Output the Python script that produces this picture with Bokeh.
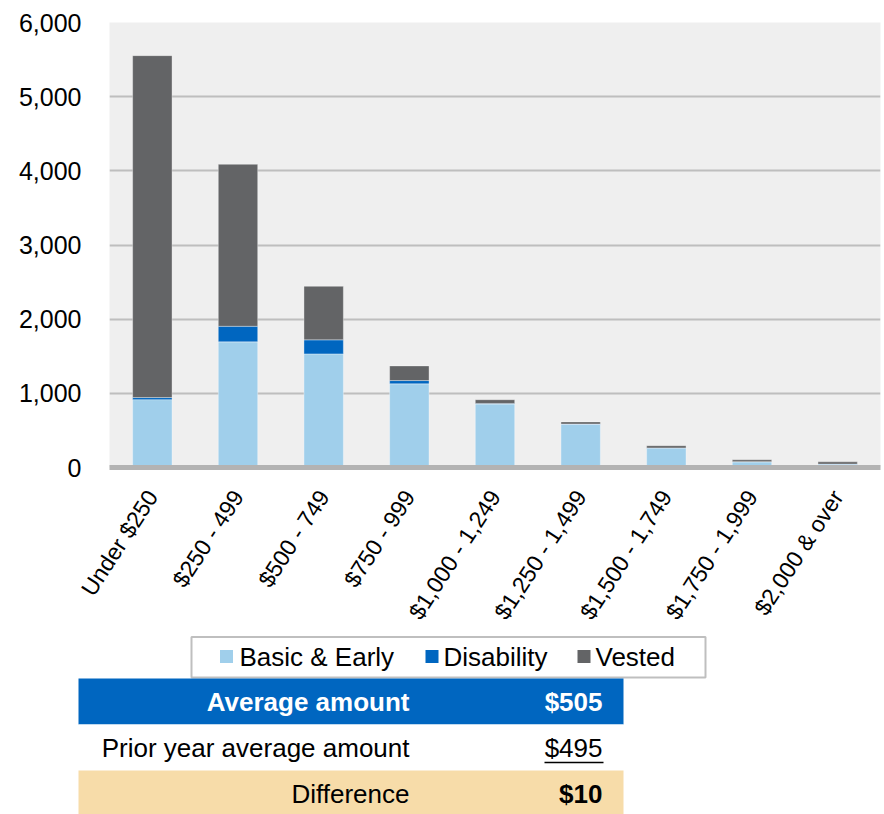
import math
from bokeh.plotting import figure
from bokeh.models import FactorRange, Range1d, NumeralTickFormatter, FixedTicker, ColumnDataSource
from bokeh.layouts import column, row
from bokeh.core.properties import value
from bokeh.embed import file_html
from bokeh.resources import INLINE

# ---- data ----
categories = ["Under $250", "$250 - 499", "$500 - 749", "$750 - 999", "$1,000 - 1,249",
              "$1,250 - 1,499", "$1,500 - 1,749", "$1,750 - 1,999", "$2,000 & over"]
basic_early = [915, 1694, 1532, 1128, 856, 582, 261, 77, 45]
disability = [28, 210, 189, 44, 8, 4, 3, 2, 1]
vested = [4610, 2184, 722, 198, 50, 29, 30, 25, 30]
series_names = ["Basic & Early", "Disability", "Vested"]
series_colors = ["#A0CFEB", "#0066C0", "#636466"]
y_ticks = [0, 1000, 2000, 3000, 4000, 5000, 6000]

table_labels = ["Average amount", "Prior year average amount", "Difference"]
table_values = ["$505", "$495", "$10"]

FONT = "Liberation Sans"

# ---- chart ----
src = ColumnDataSource(dict(cat=categories, basic=basic_early, dis=disability, vest=vested))

p1 = figure(width=884, height=635, x_range=FactorRange(*categories, range_padding=0),
            y_range=Range1d(0, 6000), output_backend="svg", toolbar_location=None,
            min_border_left=109, min_border_right=4, min_border_top=22, min_border_bottom=168)
p1.vbar_stack(["basic", "dis", "vest"], x="cat", width=0.46, source=src,
              color=series_colors, line_color="white", line_alpha=0.35, line_width=1)

p1.background_fill_color = "#EFEFEF"
p1.border_fill_color = "white"
p1.outline_line_color = None
p1.xgrid.grid_line_color = None
p1.ygrid.grid_line_color = "#BEBEBE"
p1.ygrid.grid_line_width = 2

p1.yaxis.ticker = FixedTicker(ticks=y_ticks)
p1.yaxis.formatter = NumeralTickFormatter(format="0,0")
p1.yaxis.axis_line_color = None
p1.yaxis.major_tick_line_color = None
p1.yaxis.minor_tick_line_color = None
p1.yaxis.major_label_text_font = FONT
p1.yaxis.major_label_text_font_size = "25px"
p1.yaxis.major_label_text_color = "black"
p1.yaxis.major_label_standoff = 22

p1.xaxis.axis_line_color = "#B3B3B3"
p1.xaxis.axis_line_width = 5
p1.xaxis.major_tick_line_color = None
p1.xaxis.minor_tick_line_color = None
p1.xaxis.major_label_orientation = math.radians(57)
p1.xaxis.major_label_text_font = FONT
p1.xaxis.major_label_text_font_size = "23px"
p1.xaxis.major_label_text_color = "black"
p1.xaxis.major_label_standoff = 19

# ---- legend + summary table ----
H2 = 179
p2 = figure(width=884, height=H2, x_range=Range1d(0, 884), y_range=Range1d(H2, 0),
            output_backend="svg", toolbar_location=None,
            x_axis_location=None, y_axis_location=None,
            min_border_left=0, min_border_right=0, min_border_top=0, min_border_bottom=0)
p2.outline_line_color = None
p2.xgrid.grid_line_color = None
p2.ygrid.grid_line_color = None
p2.background_fill_color = "white"
p2.border_fill_color = "white"

# legend box
p2.quad(left=[191], right=[705], top=[1.5], bottom=[42], fill_color="white",
        line_color="#BFBFBF", line_width=2)
sq_x = [226, 431.5, 583.5]
txt_x = [239, 443, 595]
p2.rect(x=sq_x, y=[21] * 3, width=13, height=13, fill_color=series_colors, line_color=None)
p2.text(x=txt_x, y=[21] * 3, text=series_names, text_font=value(FONT), text_font_size="26px",
        text_baseline="middle", text_align="left", text_color="black")

# table rows
row_top = [43, 89, 135]
row_bot = [89, 135, 181]
row_fill = ["#0066C0", "white", "#F7DCA9"]
p2.quad(left=[78] * 3, right=[623] * 3, top=row_top, bottom=row_bot,
        fill_color=row_fill, line_color=None)
row_mid = [(a + b) / 2 for a, b in zip(row_top, row_bot)]
text_colors = ["white", "black", "black"]
label_styles = ["bold", "normal", "normal"]
value_styles = ["bold", "normal", "bold"]
for i in range(3):
    p2.text(x=[409], y=[row_mid[i]], text=[table_labels[i]], text_font=value(FONT),
            text_font_size="26px", text_font_style=label_styles[i], text_color=text_colors[i],
            text_align="right", text_baseline="middle")
    p2.text(x=[602], y=[row_mid[i]], text=[table_values[i]], text_font=value(FONT),
            text_font_size="26px", text_font_style=value_styles[i], text_color=text_colors[i],
            text_align="right", text_baseline="middle")
# underline prior-year value
p2.segment(x0=[544], x1=[603], y0=[row_mid[1] + 15], y1=[row_mid[1] + 15],
           line_color="black", line_width=1.5)

layout = column(p1, row(p2))
open("out.html", "w").write(file_html(layout, INLINE))
